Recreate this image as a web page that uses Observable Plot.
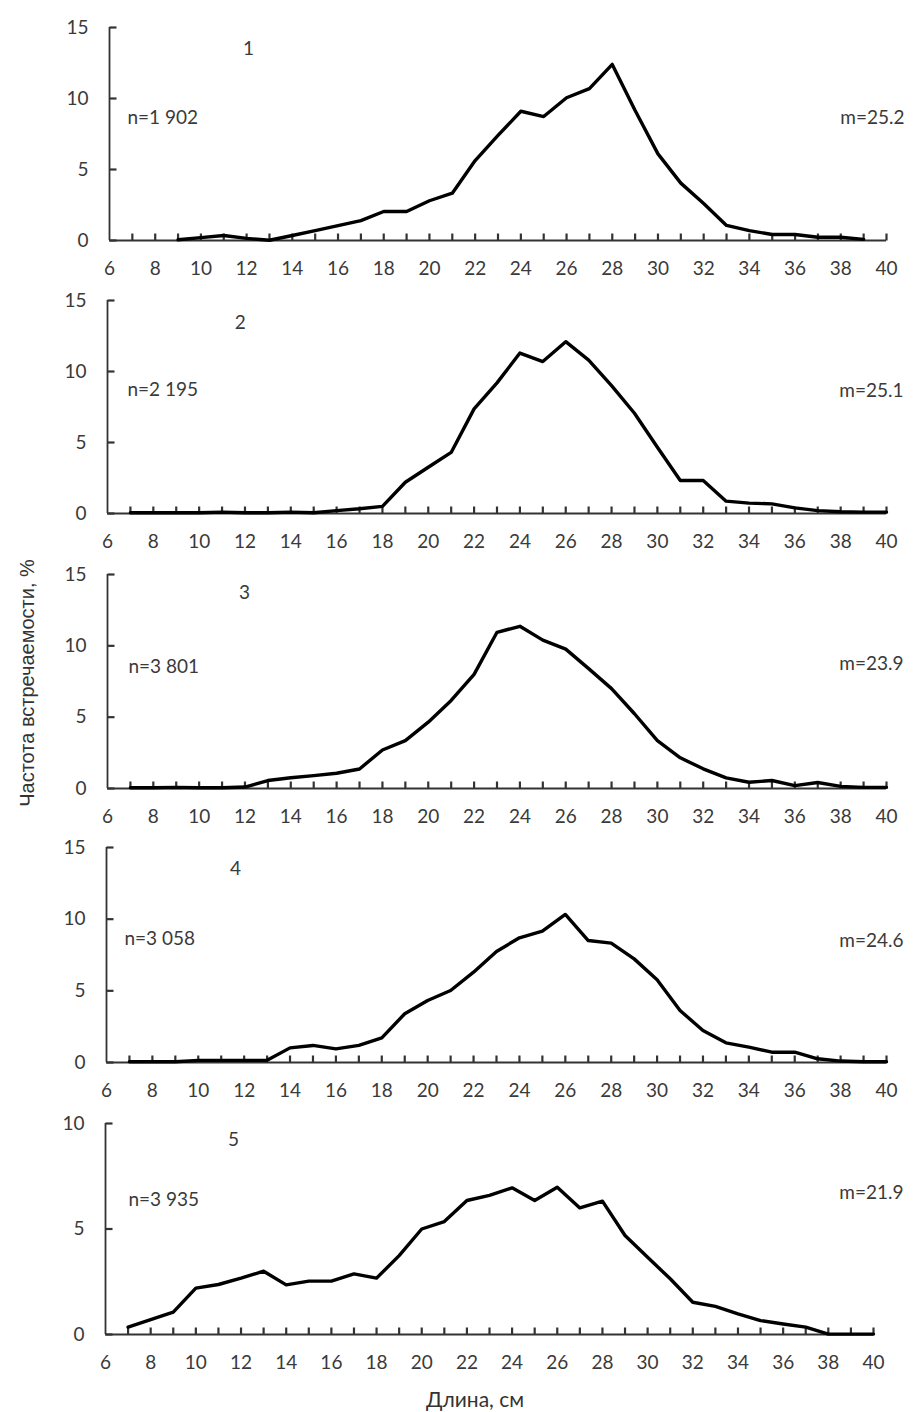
<!DOCTYPE html>
<html><head><meta charset="utf-8">
<script src="https://cdn.jsdelivr.net/npm/d3@7"></script>
<script src="https://cdn.jsdelivr.net/npm/@observablehq/plot@0.6"></script>
<style>
body{margin:0;background:#fff;}
#wrap{position:relative;width:921px;height:1412px;font-family:Lato, "Noto Sans", sans-serif;color:#333;overflow:hidden;}
.panel{position:absolute;left:0;}
#ytitle{position:absolute;left:27px;top:683px;transform:translate(-50%,-50%) rotate(-90deg);white-space:nowrap;font-family:"Liberation Sans",Arial,sans-serif;font-size:20px;color:#333;}
#xtitle{position:absolute;left:475px;top:1398px;transform:translate(-50%,-50%);white-space:nowrap;font-size:21px;color:#333;}
</style></head><body>
<div id="wrap">
  <div id="ytitle">Частота встречаемости, %</div>
  <div id="xtitle">Длина, см</div>
</div>
<script>
// Length classes, cm
const lengths = [7,8,9,10,11,12,13,14,15,16,17,18,19,20,21,22,23,24,25,26,27,28,29,30,31,32,33,34,35,36,37,38,39,40];
const xTickLabels = [6,8,10,12,14,16,18,20,22,24,26,28,30,32,34,36,38,40];
const yTicks15 = [0,5,10,15];
const yTicks10 = [0,5,10];

// Frequency, % (one series per sample)
const series1 = [null,null,0.05,0.2,0.35,0.15,0.02,0.35,0.7,1.05,1.4,2.04,2.04,2.8,3.33,5.63,7.4,9.1,8.73,10.05,10.7,12.4,9.15,6.1,4.04,2.6,1.06,0.7,0.42,0.42,0.23,0.23,0.08,null];
const series2 = [0.05,0.05,0.05,0.05,0.1,0.05,0.05,0.1,0.05,0.2,0.33,0.5,2.2,3.26,4.3,7.37,9.2,11.3,10.7,12.1,10.8,9.0,7.06,4.67,2.32,2.32,0.87,0.73,0.68,0.4,0.2,0.12,0.1,0.1];
const series3 = [0.05,0.05,0.08,0.05,0.05,0.1,0.56,0.75,0.9,1.07,1.37,2.7,3.36,4.65,6.17,8.0,10.95,11.37,10.4,9.77,8.4,7.0,5.24,3.36,2.15,1.38,0.75,0.44,0.56,0.2,0.42,0.15,0.08,0.08];
const series4 = [0.05,0.05,0.05,0.15,0.15,0.15,0.15,1.02,1.19,0.95,1.19,1.72,3.4,4.33,5.02,6.3,7.75,8.7,9.16,10.33,8.51,8.33,7.23,5.77,3.63,2.23,1.37,1.07,0.72,0.72,0.26,0.1,0.05,0.05];
const series5 = [0.35,0.7,1.06,2.2,2.37,2.67,3.0,2.35,2.53,2.53,2.87,2.67,3.74,5.0,5.35,6.35,6.59,6.95,6.35,6.98,6.0,6.32,4.69,3.66,2.64,1.53,1.33,0.98,0.66,0.5,0.35,0.02,0.02,0.02];

const panelNumbers = ["1","2","3","4","5"];
const nLabels = ["n=1 902","n=2 195","n=3 801","n=3 058","n=3 935"];
const mLabels = ["m=25.2","m=25.1","m=23.9","m=24.6","m=21.9"];

// layout (pixels) and annotation placement per panel
const layout = [
  {s: series1, yMax: 15, yTicks: yTicks15, top: 27,   left: 109, right: 886, ih: 213, numX: 12.08, numY: 13.5,  nY: 8.6,  mY: 8.65, nDx: 18, mDx: 18},
  {s: series2, yMax: 15, yTicks: yTicks15, top: 300,  left: 107, right: 886, ih: 213, numX: 11.8,  numY: 13.45, nY: 8.7,  mY: 8.65, nDx: 20, mDx: 17},
  {s: series3, yMax: 15, yTicks: yTicks15, top: 574,  left: 107, right: 886, ih: 214, numX: 11.98, numY: 13.7,  nY: 8.55, mY: 8.7,  nDx: 21, mDx: 17},
  {s: series4, yMax: 15, yTicks: yTicks15, top: 847,  left: 106, right: 886, ih: 215, numX: 11.62, numY: 13.5,  nY: 8.65, mY: 8.5,  nDx: 18, mDx: 17},
  {s: series5, yMax: 10, yTicks: yTicks10, top: 1123, left: 105, right: 873, ih: 211, numX: 11.67, numY: 9.24,  nY: 6.4,  mY: 6.7,  nDx: 23, mDx: 30}
];

const wrap = document.getElementById("wrap");
const mt = 20, mb = 42, W = 921;
const axisColor = "#333";
const textColor = "#3a3a3a";

layout.forEach((p, i) => {
  const data = lengths.map((x, k) => ({x, y: p.s[k]}));
  const iw = p.right - p.left;
  const tickY = p.yMax * 7 / p.ih;   // 7px inward tick
  const tickX = 34 * 7 / iw;
  const chart = Plot.plot({
    width: W,
    height: mt + p.ih + mb,
    marginTop: mt, marginBottom: mb, marginLeft: p.left, marginRight: W - p.right,
    x: {domain: [6, 40], label: null},
    y: {domain: [0, p.yMax], label: null},
    style: {fontFamily: "Lato, 'Noto Sans', sans-serif", fontSize: "19px", color: textColor, background: "transparent", overflow: "visible"},
    marks: [
      Plot.axisX({ticks: xTickLabels, tickSize: 0, tickPadding: 21, fontSize: 19, fill: textColor, label: null}),
      Plot.axisY({ticks: p.yTicks, tickSize: 0, tickPadding: 21, fontSize: 19, fill: textColor, label: null}),
      Plot.link(lengths, {x1: d => d, x2: d => d, y1: () => 0, y2: () => tickY, stroke: axisColor, strokeWidth: 2.2}),
      Plot.link(p.yTicks, {y1: d => d, y2: d => d, x1: () => 6, x2: () => 6 + tickX, stroke: axisColor, strokeWidth: 2.2}),
      Plot.ruleY([0], {x1: 6, x2: 40, stroke: axisColor, strokeWidth: 1.8}),
      Plot.ruleX([6], {y1: 0, y2: p.yMax, stroke: axisColor, strokeWidth: 1.8}),
      Plot.line(data, {x: "x", y: "y", stroke: "#000", strokeWidth: 3.4, strokeLinejoin: "round", strokeLinecap: "round"}),
      Plot.text([panelNumbers[i]], {x: () => p.numX, y: () => p.numY, text: d => d, fontSize: 19, fill: textColor}),
      Plot.text([nLabels[i]], {y: () => p.nY, frameAnchor: "left", dx: p.nDx, textAnchor: "start", text: d => d, fontSize: 19, fill: textColor}),
      Plot.text([mLabels[i]], {y: () => p.mY, frameAnchor: "right", dx: p.mDx, textAnchor: "end", text: d => d, fontSize: 19, fill: textColor})
    ]
  });
  chart.classList.add("panel");
  chart.style.top = (p.top - mt) + "px";
  wrap.appendChild(chart);
});
</script>
</body></html>
